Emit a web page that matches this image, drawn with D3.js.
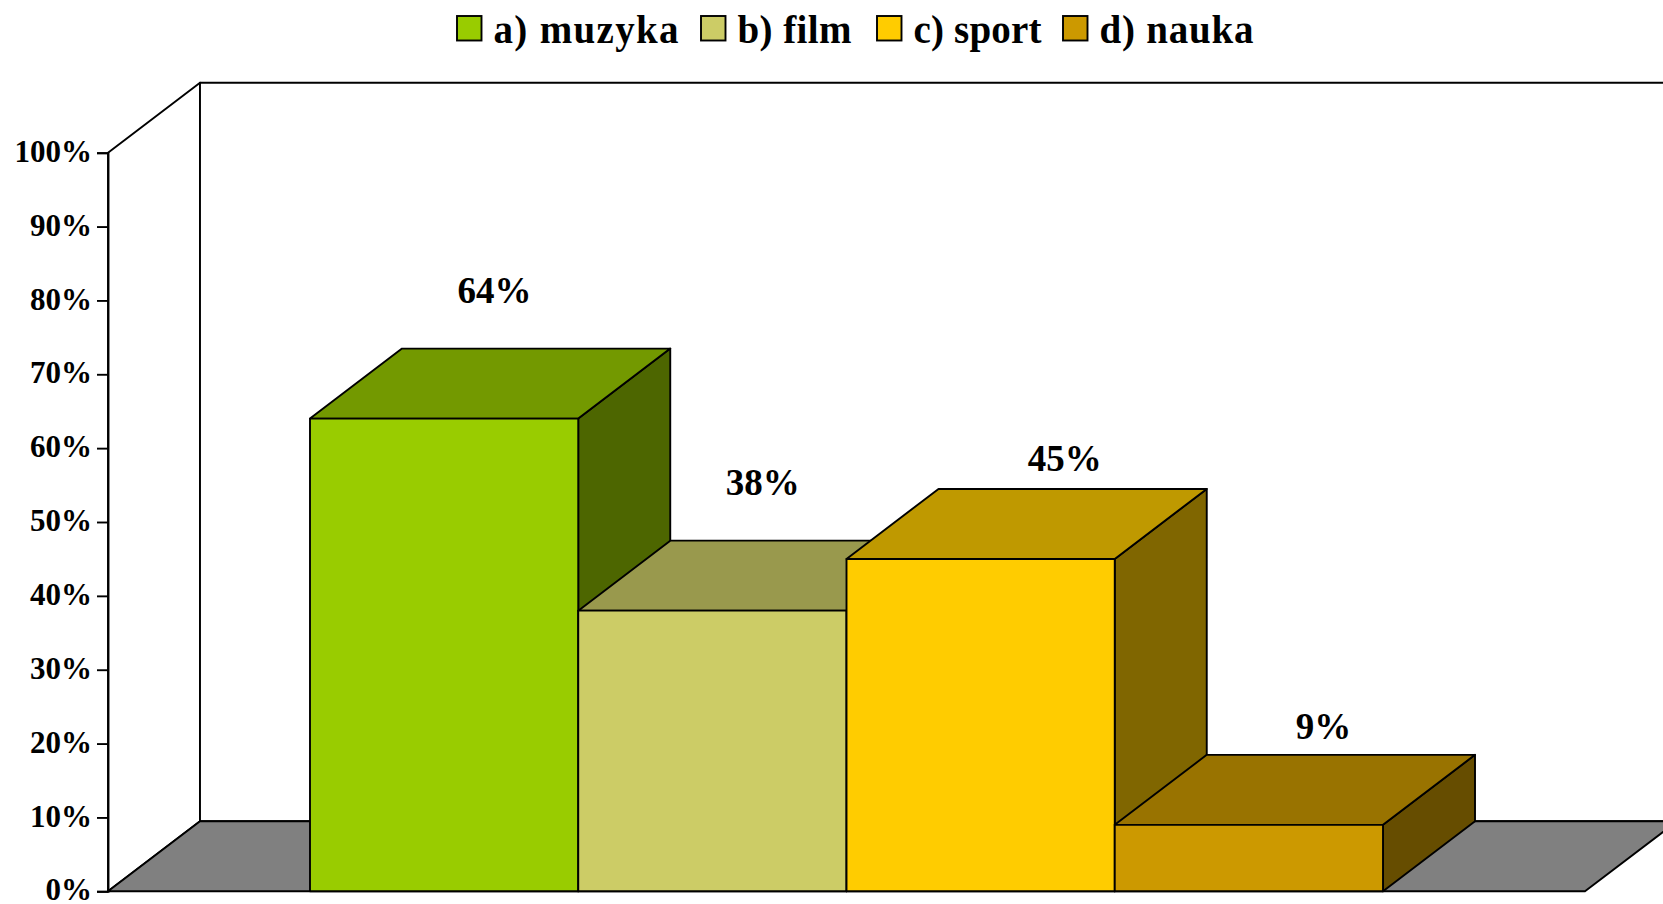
<!DOCTYPE html>
<html>
<head>
<meta charset="utf-8">
<script src="https://cdn.jsdelivr.net/npm/d3@7"></script>
<style>
html, body { margin: 0; padding: 0; background: #fff; overflow: hidden; }
text { font-family: "Liberation Serif", serif; font-weight: bold; fill: #000; }
</style>
</head>
<body>
<div id="chart"></div>
<script>
// data
const categories = ['a) muzyka', 'b) film', 'c) sport', 'd) nauka']
const values = [64, 38, 45, 9]
const colors = ['#99cc00', '#cccc66', '#ffcc00', '#cc9900']
const top_colors = ['#739900', '#99994d', '#bf9900', '#997300']
const side_colors = ['#4d6600', '#666633', '#806600', '#664d00']
const y_ticks = [0, 10, 20, 30, 40, 50, 60, 70, 80, 90, 100]

// constants
const width = 1663
const height = 904
const plot_left = 108
const plot_right = 1585
const y_zero = 891.3
const y_full = 152.7
const depth_x = 92
const depth_y = -70
const stroke_w = 1.9

// labels were placed by hand in the original
const label_dx = [50.5, 50.5, 84, 74.5]
const label_dy = [115.5, 115.5, 87.5, 85.5]
const legend_x = [457, 701, 877, 1063]
const legend_w = [185, 114, 128, 154]

const svg = d3.select('#chart')
    .append('svg')
        .attr('width', width)
        .attr('height', height)
        .style('display', 'block')

const x = d3.scaleBand()
    .domain(categories)
    .range([plot_left, plot_right])
    .paddingInner(0)
    .paddingOuter(0.753)

const y = d3.scaleLinear()
    .domain([0, 100])
    .range([y_zero, y_full])

const line = d3.line()

function poly(points, fill) {
    svg.append('path')
        .attr('d', line(points) + 'Z')
        .attr('fill', fill)
        .attr('stroke', '#000')
        .attr('stroke-width', stroke_w)
        .attr('stroke-linejoin', 'round')
}

// walls
poly([[plot_left, y(0)], [plot_left, y(100)], [plot_left + depth_x, y(100) + depth_y], [plot_left + depth_x, y(0) + depth_y]], '#fff')
poly([[plot_left + depth_x, y(100) + depth_y], [plot_right + depth_x, y(100) + depth_y], [plot_right + depth_x, y(0) + depth_y], [plot_left + depth_x, y(0) + depth_y]], '#fff')

// floor
poly([[plot_left, y(0)], [plot_right, y(0)], [plot_right + depth_x, y(0) + depth_y], [plot_left + depth_x, y(0) + depth_y]], '#808080')

// axis
const axis = svg.append('g')
    .attr('transform', `translate(${plot_left}, 0)`)
    .call(d3.axisLeft(y)
        .tickValues(y_ticks)
        .tickSize(11)
        .tickPadding(5)
        .tickFormat(d => d + '%'))
axis.select('.domain').attr('stroke-width', stroke_w).attr('stroke', '#000')
axis.selectAll('.tick line').attr('stroke-width', stroke_w).attr('stroke', '#000')
axis.selectAll('.tick text')
    .attr('dy', '0.28em')
    .attr('fill', '#000')
    .style('font-family', '"Liberation Serif", serif')
    .style('font-size', '31px')
    .style('font-weight', 'bold')

// bars, later ones drawn over the earlier side faces
categories.forEach(function (c, i) {
    const x0 = x(c)
    const x1 = x0 + x.bandwidth()
    const yt = y(values[i])
    const yb = y(0)
    poly([[x1, yb], [x1, yt], [x1 + depth_x, yt + depth_y], [x1 + depth_x, yb + depth_y]], side_colors[i])
    poly([[x0, yt], [x1, yt], [x1 + depth_x, yt + depth_y], [x0 + depth_x, yt + depth_y]], top_colors[i])
    poly([[x0, yb], [x0, yt], [x1, yt], [x1, yb]], colors[i])
})

// value labels
categories.forEach(function (c, i) {
    svg.append('text')
        .attr('x', x(c) + x.bandwidth() / 2 + label_dx[i])
        .attr('y', y(values[i]) - label_dy[i])
        .attr('text-anchor', 'middle')
        .style('font-size', '37px')
        .text(values[i] + '%')
})

// legend
categories.forEach(function (c, i) {
    svg.append('rect')
        .attr('x', legend_x[i])
        .attr('y', 16)
        .attr('width', 24.5)
        .attr('height', 24.5)
        .attr('fill', colors[i])
        .attr('stroke', '#000')
        .attr('stroke-width', stroke_w)
    svg.append('text')
        .attr('x', legend_x[i] + 36.5)
        .attr('y', 42.5)
        .attr('textLength', legend_w[i])
        .attr('lengthAdjust', 'spacing')
        .style('font-size', '39px')
        .text(c)
})
</script>
</body>
</html>
